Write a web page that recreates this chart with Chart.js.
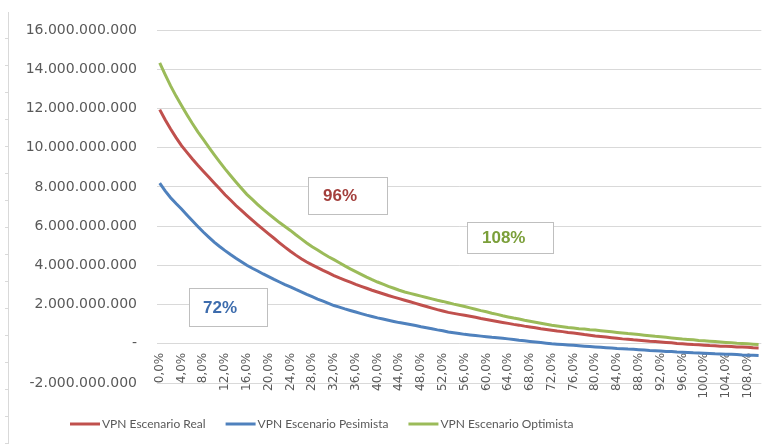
<!DOCTYPE html>
<html>
<head>
<meta charset="utf-8">
<script src="https://cdn.jsdelivr.net/npm/chart.js@4/dist/chart.umd.min.js"></script>
<style>
  html, body { margin: 0; padding: 0; background: #fff; overflow: hidden; }
  #wrap { position: relative; width: 782px; height: 444px; }
  #sheetEdge {
    position: absolute; left: 5px; top: 12px; width: 3px; height: 432px;
    border-right: 1px solid #d9d9d9;
    background: repeating-linear-gradient(to bottom, transparent 0 26px, #d9d9d9 26px 27px);
  }
</style>
</head>
<body>
<div id="wrap">
  <div id="sheetEdge"></div>
  <canvas id="vpnChart" width="782" height="444"></canvas>
</div>
<script>
// tasas de descuento 0% .. 110%
const rates = Array.from({ length: 111 }, (_, i) => i);
const rateLabels = rates.map(r => r + ',0%');

// VPN en miles de millones
const vpnReal = [
  11.94, 11.42, 10.95, 10.51, 10.10, 9.76, 9.42, 9.10, 8.80, 8.50,
  8.20, 7.90, 7.60, 7.33, 7.05, 6.80, 6.55, 6.30, 6.06, 5.83,
  5.60, 5.38, 5.15, 4.93, 4.72, 4.52, 4.34, 4.17, 4.02, 3.88,
  3.74, 3.61, 3.48, 3.36, 3.25, 3.14, 3.03, 2.93, 2.83, 2.73,
  2.64, 2.55, 2.46, 2.38, 2.30, 2.22, 2.14, 2.06, 1.98, 1.90,
  1.82, 1.74, 1.67, 1.60, 1.55, 1.50, 1.45, 1.40, 1.35, 1.29,
  1.24, 1.19, 1.14, 1.09, 1.04, 0.99, 0.95, 0.90, 0.86, 0.82,
  0.77, 0.73, 0.69, 0.65, 0.62, 0.58, 0.55, 0.51, 0.47, 0.44,
  0.40, 0.37, 0.34, 0.31, 0.28, 0.25, 0.23, 0.20, 0.18, 0.16,
  0.13, 0.11, 0.09, 0.07, 0.05, 0.02, 0.00, -0.02, -0.04, -0.05,
  -0.07, -0.09, -0.10, -0.12, -0.13, -0.14, -0.16, -0.17, -0.18, -0.20,
  -0.21
];
const vpnPesimista = [
  8.19, 7.80, 7.45, 7.15, 6.87, 6.57, 6.27, 5.98, 5.70, 5.44,
  5.18, 4.96, 4.75, 4.55, 4.36, 4.18, 4.00, 3.85, 3.71, 3.56,
  3.42, 3.28, 3.15, 3.02, 2.90, 2.77, 2.65, 2.52, 2.40, 2.28,
  2.17, 2.06, 1.95, 1.87, 1.78, 1.70, 1.62, 1.54, 1.46, 1.39,
  1.32, 1.26, 1.20, 1.14, 1.08, 1.03, 0.98, 0.93, 0.87, 0.82,
  0.77, 0.71, 0.66, 0.60, 0.56, 0.52, 0.48, 0.45, 0.42, 0.39,
  0.36, 0.33, 0.31, 0.28, 0.25, 0.22, 0.18, 0.15, 0.12, 0.09,
  0.06, 0.03, 0.00, -0.02, -0.04, -0.06, -0.08, -0.10, -0.12, -0.14,
  -0.16, -0.18, -0.20, -0.22, -0.24, -0.25, -0.27, -0.28, -0.30, -0.32,
  -0.34, -0.35, -0.37, -0.39, -0.40, -0.42, -0.43, -0.44, -0.46, -0.47,
  -0.48, -0.49, -0.51, -0.52, -0.53, -0.54, -0.55, -0.57, -0.58, -0.59,
  -0.60
];
const vpnOptimista = [
  14.32, 13.72, 13.15, 12.63, 12.15, 11.68, 11.23, 10.81, 10.42, 10.03,
  9.65, 9.28, 8.92, 8.58, 8.25, 7.93, 7.62, 7.36, 7.10, 6.85,
  6.62, 6.40, 6.18, 5.98, 5.78, 5.56, 5.35, 5.14, 4.95, 4.78,
  4.60, 4.44, 4.29, 4.13, 3.97, 3.82, 3.68, 3.54, 3.40, 3.27,
  3.15, 3.04, 2.93, 2.83, 2.73, 2.64, 2.57, 2.50, 2.43, 2.36,
  2.29, 2.22, 2.16, 2.09, 2.02, 1.96, 1.90, 1.83, 1.76, 1.69,
  1.63, 1.56, 1.50, 1.43, 1.37, 1.31, 1.26, 1.20, 1.15, 1.10,
  1.05, 1.00, 0.95, 0.91, 0.87, 0.83, 0.80, 0.77, 0.75, 0.72,
  0.70, 0.67, 0.64, 0.61, 0.58, 0.55, 0.52, 0.50, 0.47, 0.44,
  0.41, 0.38, 0.36, 0.33, 0.30, 0.27, 0.24, 0.22, 0.20, 0.17,
  0.15, 0.13, 0.11, 0.09, 0.07, 0.05, 0.03, 0.02, 0.00, -0.02,
  -0.04
];

// TIR de cada escenario
const tirLabels = ['72%', '96%', '108%'];

const BILLON = 1e9;
const toPesos = arr => arr.map(v => v * BILLON);

function fmtMiles(v) {
  if (v === 0) return '-';
  const s = Math.abs(Math.round(v)).toString().replace(/\B(?=(\d{3})+(?!\d))/g, '.');
  return (v < 0 ? '-' : '') + s;
}

// cajas de texto con la TIR
const notes = [
  { text: tirLabels[0], color: '#3D6CAD', box: [189, 288, 78, 38], tx: 203 },
  { text: tirLabels[1], color: '#A33F3C', box: [308, 177, 79, 37], tx: 323 },
  { text: tirLabels[2], color: '#7B9F3A', box: [467, 222, 86, 31], tx: 482 }
];

const tirBoxes = {
  id: 'tirBoxes',
  afterDraw(chart) {
    const ctx = chart.ctx;
    ctx.save();
    notes.forEach(n => {
      const [x, y, w, h] = n.box;
      ctx.fillStyle = '#fff';
      ctx.fillRect(x, y, w, h);
      ctx.strokeStyle = '#bfbfbf';
      ctx.lineWidth = 1;
      ctx.strokeRect(x + 0.5, y + 0.5, w, h);
      ctx.fillStyle = n.color;
      ctx.font = 'bold 17px "Liberation Sans"';
      ctx.textBaseline = 'middle';
      ctx.textAlign = 'left';
      ctx.fillText(n.text, n.tx, y + h / 2 + 1);
    });
    ctx.restore();
  }
};

// leyenda abajo, como en Excel
const bottomLegend = {
  id: 'bottomLegend',
  afterDraw(chart) {
    const ctx = chart.ctx;
    ctx.save();
    ctx.font = '12px Lato';
    ctx.textBaseline = 'middle';
    ctx.textAlign = 'left';
    let x = 70;
    const y = 424;
    chart.data.datasets.forEach(ds => {
      ctx.strokeStyle = ds.borderColor;
      ctx.lineWidth = 3;
      ctx.beginPath();
      ctx.moveTo(x, y);
      ctx.lineTo(x + 30, y);
      ctx.stroke();
      ctx.fillStyle = '#595959';
      ctx.fillText(ds.label, x + 32, y);
      x += 32 + ctx.measureText(ds.label).width + 20;
    });
    ctx.restore();
  }
};

const ctx = document.getElementById('vpnChart');

new Chart(ctx, {
  type: 'line',
  data: {
    labels: rateLabels,
    datasets: [
      { label: 'VPN Escenario Real', data: toPesos(vpnReal), borderColor: '#C0504D', backgroundColor: '#C0504D' },
      { label: 'VPN Escenario Pesimista', data: toPesos(vpnPesimista), borderColor: '#4F81BD', backgroundColor: '#4F81BD' },
      { label: 'VPN Escenario Optimista', data: toPesos(vpnOptimista), borderColor: '#9BBB59', backgroundColor: '#9BBB59' }
    ]
  },
  options: {
    responsive: false,
    animation: false,
    devicePixelRatio: 1,
    layout: { padding: { top: 30, bottom: 61, left: 0, right: 0 } },
    elements: {
      line: { borderWidth: 3, tension: 0 },
      point: { radius: 0 }
    },
    plugins: {
      legend: { display: false },
      tooltip: { enabled: false }
    },
    scales: {
      y: {
        min: -2 * BILLON,
        max: 16 * BILLON,
        afterFit: scale => { scale.width = 157; },
        grid: { color: '#d9d9d9', drawTicks: false },
        border: { display: false },
        ticks: {
          stepSize: 2 * BILLON,
          padding: 20,
          color: '#595959',
          font: { family: 'DejaVu Sans', size: 14 },
          callback: v => fmtMiles(v)
        }
      },
      x: {
        position: { y: 0 },
        offset: true,
        grid: { display: false, drawTicks: false },
        border: { display: false },
        ticks: {
          autoSkip: false,
          minRotation: 90,
          maxRotation: 90,
          padding: 9,
          color: '#595959',
          font: { family: 'DejaVu Sans', size: 12 },
          callback: (v, i) => (i % 4 === 0 ? rateLabels[i] : '')
        }
      }
    }
  },
  plugins: [tirBoxes, bottomLegend]
});
</script>
</body>
</html>
